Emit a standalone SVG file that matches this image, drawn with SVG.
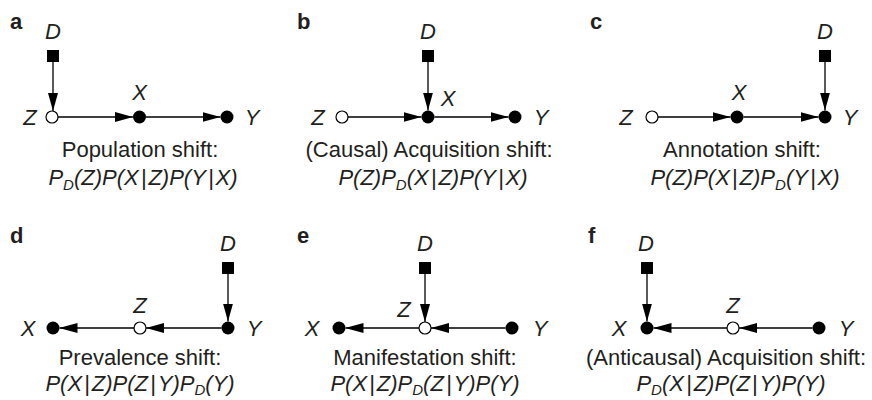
<svg xmlns="http://www.w3.org/2000/svg" width="872" height="400" viewBox="0 0 872 400">
<style>
text{font-family:"Liberation Sans",Arial,Helvetica,sans-serif;font-size:22px;fill:#231f20}
.pl{font-weight:bold}
.lb{font-style:italic}
.cap{text-anchor:middle}
.fm{text-anchor:middle;font-style:italic}
.sub{font-size:15px}
.m{text-anchor:middle}
.e{stroke:#000;stroke-width:1.3;fill:none}
.fill{fill:#000}
.open{fill:#fff;stroke:#000;stroke-width:1.2}
</style>
<defs>
<marker id="ah" markerUnits="userSpaceOnUse" markerWidth="18" markerHeight="10" refX="18" refY="5" orient="auto" viewBox="0 0 18 10">
<path d="M0,0 L18,5 L0,10 z" fill="#000"/>
</marker>
</defs>
<rect width="872" height="400" fill="#fff"/>

<g id="connectors">
<!-- a -->
<line class="e" x1="53" y1="62" x2="53" y2="111" marker-end="url(#ah)"/>
<line class="e" x1="58" y1="117" x2="133" y2="117" marker-end="url(#ah)"/>
<line class="e" x1="146" y1="117" x2="220.5" y2="117" marker-end="url(#ah)"/>
<!-- b -->
<line class="e" x1="428" y1="62" x2="428" y2="110.5" marker-end="url(#ah)"/>
<line class="e" x1="348" y1="117" x2="421.5" y2="117" marker-end="url(#ah)"/>
<line class="e" x1="434.5" y1="117" x2="508.5" y2="117" marker-end="url(#ah)"/>
<!-- c -->
<line class="e" x1="825" y1="62" x2="825" y2="110.5" marker-end="url(#ah)"/>
<line class="e" x1="658" y1="117" x2="730.5" y2="117" marker-end="url(#ah)"/>
<line class="e" x1="743.5" y1="117" x2="818.5" y2="117" marker-end="url(#ah)"/>
<!-- d -->
<line class="e" x1="228" y1="274" x2="228" y2="321.5" marker-end="url(#ah)"/>
<line class="e" x1="221.5" y1="328" x2="146" y2="328" marker-end="url(#ah)"/>
<line class="e" x1="134" y1="328" x2="59.5" y2="328" marker-end="url(#ah)"/>
<!-- e -->
<line class="e" x1="425" y1="274" x2="425" y2="322" marker-end="url(#ah)"/>
<line class="e" x1="505.5" y1="328" x2="431" y2="328" marker-end="url(#ah)"/>
<line class="e" x1="419" y1="328" x2="345.5" y2="328" marker-end="url(#ah)"/>
<!-- f -->
<line class="e" x1="647" y1="274" x2="647" y2="321.5" marker-end="url(#ah)"/>
<line class="e" x1="812.5" y1="328" x2="739" y2="328" marker-end="url(#ah)"/>
<line class="e" x1="727" y1="328" x2="653.5" y2="328" marker-end="url(#ah)"/>
</g>

<g id="panel-a">
<text class="pl" x="10" y="29">a</text>
<g id="a-D"><rect class="fill" x="47" y="50" width="12" height="12"/><text class="lb m" x="53" y="39">D</text></g>
<g id="a-Z"><circle class="open" cx="52" cy="117" r="6"/><text class="lb m" x="30" y="125">Z</text></g>
<g id="a-X"><circle class="fill" cx="139.5" cy="117" r="6.5"/><text class="lb m" x="139.5" y="100">X</text></g>
<g id="a-Y"><circle class="fill" cx="227" cy="117" r="6.5"/><text class="lb m" x="252" y="125">Y</text></g>
<text class="cap" x="140" y="157">Population shift:</text>
<text class="fm" x="143" y="185">P<tspan class="sub" dy="5">D</tspan><tspan dy="-5">(Z)P(X</tspan><tspan dx="2">|</tspan><tspan dx="2">Z)P(Y</tspan><tspan dx="2">|</tspan><tspan dx="2">X)</tspan></text>
</g>

<g id="panel-b">
<text class="pl" x="297" y="29">b</text>
<g id="b-D"><rect class="fill" x="422" y="50" width="12" height="12"/><text class="lb m" x="428" y="39">D</text></g>
<g id="b-Z"><circle class="open" cx="342" cy="117" r="6"/><text class="lb m" x="318" y="125">Z</text></g>
<g id="b-X"><circle class="fill" cx="428" cy="117" r="6.5"/><text class="lb m" x="448" y="106">X</text></g>
<g id="b-Y"><circle class="fill" cx="515" cy="117" r="6.5"/><text class="lb m" x="541" y="125">Y</text></g>
<text class="cap" x="429" y="157">(Causal) Acquisition shift:</text>
<text class="fm" x="433" y="185">P(Z)P<tspan class="sub" dy="5">D</tspan><tspan dy="-5">(X</tspan><tspan dx="2">|</tspan><tspan dx="2">Z)P(Y</tspan><tspan dx="2">|</tspan><tspan dx="2">X)</tspan></text>
</g>

<g id="panel-c">
<text class="pl" x="590" y="29">c</text>
<g id="c-D"><rect class="fill" x="819" y="50" width="12" height="12"/><text class="lb m" x="825" y="39">D</text></g>
<g id="c-Z"><circle class="open" cx="652" cy="117" r="6"/><text class="lb m" x="626" y="125">Z</text></g>
<g id="c-X"><circle class="fill" cx="737" cy="117" r="6.5"/><text class="lb m" x="739" y="100">X</text></g>
<g id="c-Y"><circle class="fill" cx="825" cy="117" r="6.5"/><text class="lb m" x="850" y="125">Y</text></g>
<text class="cap" x="742" y="157">Annotation shift:</text>
<text class="fm" x="745" y="185">P(Z)P(X<tspan dx="2">|</tspan><tspan dx="2">Z)P</tspan><tspan class="sub" dy="5">D</tspan><tspan dy="-5">(Y</tspan><tspan dx="2">|</tspan><tspan dx="2">X)</tspan></text>
</g>

<g id="panel-d">
<text class="pl" x="10" y="243">d</text>
<g id="d-D"><rect class="fill" x="222" y="262" width="12" height="12"/><text class="lb m" x="228" y="251">D</text></g>
<g id="d-X"><circle class="fill" cx="53" cy="328" r="6.5"/><text class="lb m" x="28" y="336">X</text></g>
<g id="d-Z"><circle class="open" cx="140" cy="328" r="6"/><text class="lb m" x="140" y="313">Z</text></g>
<g id="d-Y"><circle class="fill" cx="228" cy="328" r="6.5"/><text class="lb m" x="254" y="336">Y</text></g>
<text class="cap" x="140" y="365">Prevalence shift:</text>
<text class="fm" x="140" y="391">P(X<tspan dx="2">|</tspan><tspan dx="2">Z)P(Z</tspan><tspan dx="2">|</tspan><tspan dx="2">Y)P</tspan><tspan class="sub" dy="4">D</tspan><tspan dy="-4">(Y)</tspan></text>
</g>

<g id="panel-e">
<text class="pl" x="297" y="243">e</text>
<g id="e-D"><rect class="fill" x="419" y="262" width="12" height="12"/><text class="lb m" x="425" y="251">D</text></g>
<g id="e-X"><circle class="fill" cx="339" cy="328" r="6.5"/><text class="lb m" x="312" y="336">X</text></g>
<g id="e-Z"><circle class="open" cx="425" cy="328" r="6"/><text class="lb m" x="404" y="317">Z</text></g>
<g id="e-Y"><circle class="fill" cx="512" cy="328" r="6.5"/><text class="lb m" x="540" y="336">Y</text></g>
<text class="cap" x="425" y="365">Manifestation shift:</text>
<text class="fm" x="425" y="391">P(X<tspan dx="2">|</tspan><tspan dx="2">Z)P</tspan><tspan class="sub" dy="4">D</tspan><tspan dy="-4">(Z</tspan><tspan dx="2">|</tspan><tspan dx="2">Y)P(Y)</tspan></text>
</g>

<g id="panel-f">
<text class="pl" x="588" y="243">f</text>
<g id="f-D"><rect class="fill" x="641" y="262" width="12" height="12"/><text class="lb m" x="646" y="251">D</text></g>
<g id="f-X"><circle class="fill" cx="647" cy="328" r="6.5"/><text class="lb m" x="619" y="336">X</text></g>
<g id="f-Z"><circle class="open" cx="733" cy="328" r="6"/><text class="lb m" x="733" y="313">Z</text></g>
<g id="f-Y"><circle class="fill" cx="819" cy="328" r="6.5"/><text class="lb m" x="846" y="336">Y</text></g>
<text class="cap" x="726" y="365">(Anticausal) Acquisition shift:</text>
<text class="fm" x="731" y="391">P<tspan class="sub" dy="4">D</tspan><tspan dy="-4">(X</tspan><tspan dx="2">|</tspan><tspan dx="2">Z)P(Z</tspan><tspan dx="2">|</tspan><tspan dx="2">Y)P(Y)</tspan></text>
</g>
</svg>
